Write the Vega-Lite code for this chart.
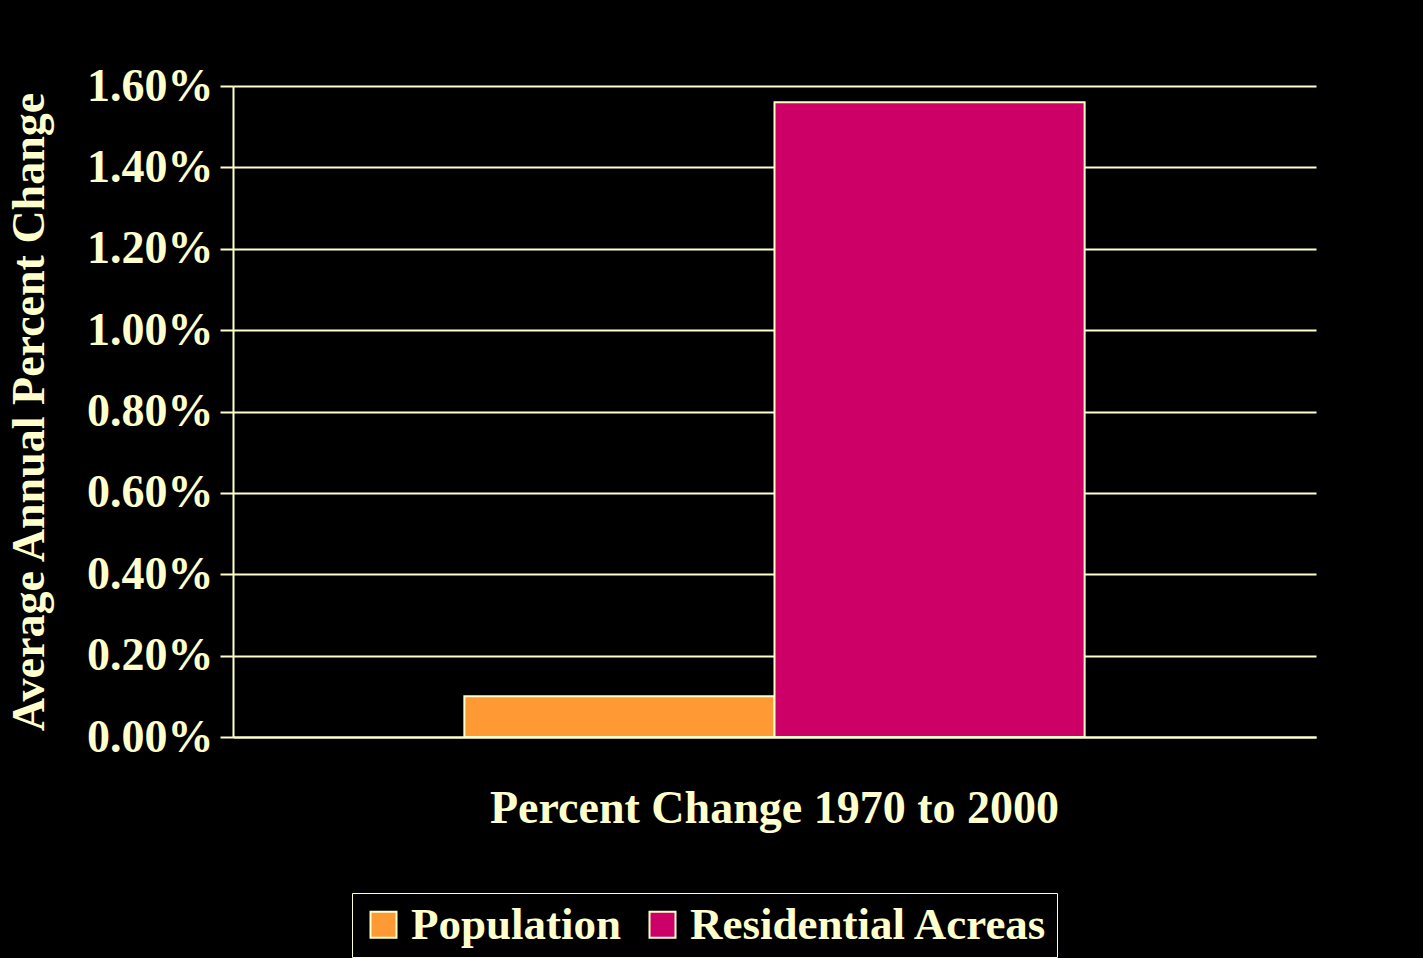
{
  "$schema": "https://vega.github.io/schema/vega-lite/v6.json",
  "width": 1083,
  "height": 651,
  "autosize": {"type": "none"},
  "padding": {"left": 233, "top": 86, "right": 107, "bottom": 221},
  "background": "#000000",
  "config": {"view": {"stroke": null}, "font": "Liberation Serif"},
  "data": {
    "values": [
      {"period": "Percent Change 1970 to 2000", "series": "Population", "value": 0.0010},
      {"period": "Percent Change 1970 to 2000", "series": "Residential Acreas", "value": 0.0156}
    ]
  },
  "mark": {"type": "bar", "stroke": "#FFFFCC", "strokeWidth": 2},
  "encoding": {
    "x": {
      "field": "period",
      "type": "nominal",
      "scale": {"paddingOuter": 0.373, "paddingInner": 0},
      "axis": {
        "title": null,
        "labelAngle": 0,
        "labelFontSize": 46,
        "labelFontWeight": "bold",
        "labelColor": "#FFFFCC",
        "labelPadding": 49,
        "labelLimit": 0,
        "ticks": false,
        "tickSize": 0,
        "domainColor": "#FFFFCC",
        "domainWidth": 2,
        "grid": false
      }
    },
    "xOffset": {
      "field": "series",
      "type": "nominal",
      "sort": ["Population", "Residential Acreas"],
      "scale": {"paddingInner": 0, "paddingOuter": 0}
    },
    "y": {
      "field": "value",
      "type": "quantitative",
      "scale": {"domain": [0, 0.016], "nice": false},
      "axis": {
        "values": [0, 0.002, 0.004, 0.006, 0.008, 0.01, 0.012, 0.014, 0.016],
        "format": ".2%",
        "title": "Average Annual Percent Change",
        "titleFontSize": 46,
        "titleFontWeight": "bold",
        "titleColor": "#FFFFCC",
        "titlePadding": 33,
        "labelFontSize": 46,
        "labelFontWeight": "bold",
        "labelColor": "#FFFFCC",
        "labelPadding": 7,
        "tickColor": "#FFFFCC",
        "tickSize": 13,
        "tickWidth": 2,
        "domainColor": "#FFFFCC",
        "domainWidth": 2,
        "gridColor": "#FFFFCC",
        "gridWidth": 2
      }
    },
    "color": {
      "field": "series",
      "type": "nominal",
      "scale": {"domain": ["Population", "Residential Acreas"], "range": ["#FF9933", "#CC0066"]},
      "legend": {
        "title": null,
        "orient": "none",
        "legendX": 119,
        "legendY": 807,
        "direction": "horizontal",
        "labelFontSize": 45,
        "labelFontWeight": "bold",
        "labelColor": "#FFFFCC",
        "labelLimit": 0,
        "labelOffset": 5,
        "columnPadding": 18,
        "symbolType": "square",
        "symbolSize": 676,
        "symbolStrokeColor": "#FFFFCC",
        "symbolStrokeWidth": 2,
        "symbolOpacity": 1,
        "strokeColor": "#FFFFCC",
        "fillColor": "#000000",
        "padding": 9
      }
    }
  }
}
